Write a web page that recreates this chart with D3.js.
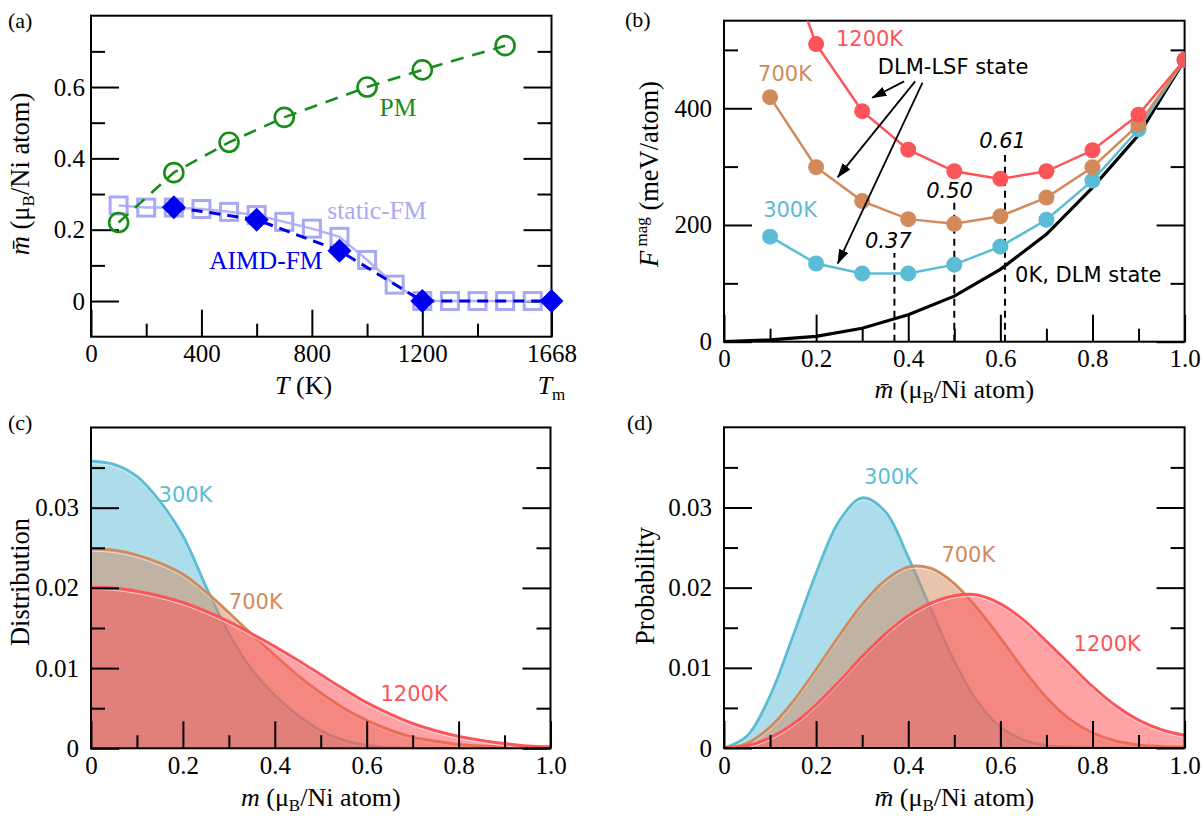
<!DOCTYPE html>
<html lang="en">
<head>
<meta charset="UTF-8">
<title>Ni moments</title>
<script src="https://cdn.jsdelivr.net/npm/d3@7"></script>
<style>
  body { margin: 0; background: #fff; }
  svg text { font-family: "Liberation Serif", "Times New Roman", serif; }
  svg text.sans { font-family: "DejaVu Sans", Verdana, sans-serif; }
</style>
</head>
<body>
<svg id="fig" width="1202" height="816"></svg>
<script>
// ---- (a) moment vs temperature
var tempPM = [100, 300, 500, 700, 1000, 1200, 1500];
var momentPM = [0.22, 0.36, 0.445, 0.515, 0.60, 0.648, 0.716];
var tempStatic = [100, 200, 300, 400, 500, 600, 700, 800, 900, 1000, 1100, 1200, 1300, 1400, 1500, 1600];
var momentStatic = [0.268, 0.262, 0.262, 0.258, 0.250, 0.241, 0.222, 0.203, 0.180, 0.115, 0.046, 0, 0, 0, 0, 0];
var tempAIMD = [300, 600, 900, 1200, 1668];
var momentAIMD = [0.263, 0.228, 0.141, 0, 0];

// ---- (b) magnetic free energy vs mean moment
var mBar = [0.1, 0.2, 0.3, 0.4, 0.5, 0.6, 0.7, 0.8, 0.9, 1.0];
var F300 = [180, 134, 117, 117, 132, 163, 209, 276, 364, 483];
var F700 = [419, 299, 241, 210, 202, 215, 247, 299, 372, 483];
var F1200 = [728, 510, 395, 329, 292, 279, 292, 328, 389, 483];
var mDLM = [0, 0.1, 0.2, 0.3, 0.4, 0.5, 0.6, 0.7, 0.8, 0.9, 1.0];
var FDLM = [0, 3, 9, 23, 46, 78, 124, 184, 264, 354, 483];
var minMoment = [0.37, 0.50, 0.61];
var minLineTop = [152, 238, 320];

// ---- (c) distribution of local moments, (d) probability of mean moment
var mGrid = [0, 0.05, 0.1, 0.15, 0.2, 0.25, 0.3, 0.35, 0.4, 0.45, 0.5,
             0.55, 0.6, 0.65, 0.7, 0.75, 0.8, 0.85, 0.9, 0.95, 1.0];
var dist300 = [0.0358, 0.0354, 0.0339, 0.0308, 0.0265, 0.0202, 0.0143, 0.0098, 0.0066, 0.0041, 0.0022,
               0.0010, 0.0004, 0.0001, 0, 0, 0, 0, 0, 0, 0];
var dist700 = [0.0249, 0.0247, 0.0241, 0.0231, 0.0217, 0.0195, 0.0169, 0.0142, 0.0116, 0.0091, 0.0069,
               0.0050, 0.0035, 0.0023, 0.0014, 0.0009, 0.0005, 0.0003, 0.0002, 0.0001, 0.0001];
var dist1200 = [0.0201, 0.0200, 0.0196, 0.0190, 0.0182, 0.0171, 0.0158, 0.0143, 0.0127, 0.0110, 0.0092,
                0.0074, 0.0057, 0.0043, 0.0031, 0.0022, 0.0015, 0.0010, 0.0006, 0.0003, 0.0002];
var prob300 = [0, 0.0015, 0.0065, 0.0140, 0.0218, 0.0283, 0.0312, 0.0295, 0.0238, 0.0172, 0.0108,
               0.0058, 0.0026, 0.0010, 0.0003, 0.0001, 0, 0, 0, 0, 0];
var prob700 = [0, 0.0006, 0.0026, 0.0058, 0.0098, 0.0140, 0.0179, 0.0209, 0.0226, 0.0224, 0.0205,
               0.0174, 0.0137, 0.0098, 0.0063, 0.0036, 0.0019, 0.0009, 0.0004, 0.0002, 0.0001];
var prob1200 = [0, 0.0003, 0.0013, 0.0030, 0.0054, 0.0083, 0.0114, 0.0142, 0.0165, 0.0181, 0.0190,
                0.0191, 0.0180, 0.0160, 0.0133, 0.0105, 0.0077, 0.0053, 0.0035, 0.0023, 0.0016];

var blue = '#5bbcd5', brown = '#d38a5b', red = '#fd5459';
var svg = d3.select('#fig');

var defs = svg.append('defs');
defs.append('marker').attr('id', 'arrow')
    .attr('markerUnits', 'userSpaceOnUse')
    .attr('markerWidth', 16).attr('markerHeight', 12)
    .attr('refX', 14).attr('refY', 5).attr('orient', 'auto')
    .append('path').attr('d', 'M0,0 L15,5 L0,10 Z').attr('fill', '#000');

var fmt1 = function (d) { return d === 0 ? '0' : d3.format('.1f')(d) };
var fmt2 = function (d) { return d === 0 ? '0' : d3.format('.2f')(d) };

// frame with inward ticks on bottom, left and right
function panel(o) {
    var x = d3.scaleLinear().domain(o.xd).range([o.l, o.r]);
    var y = d3.scaleLinear().domain(o.yd).range([o.b, o.t]);
    var g = svg.append('g');
    function style(sel) {
        sel.attr('font-size', 25).attr('font-family', '"Liberation Serif", serif');
        sel.select('.domain').remove();
        sel.selectAll('line').attr('stroke-width', 2);
    }
    g.append('g').attr('transform', 'translate(0,' + o.b + ')')
        .call(d3.axisBottom(x).tickValues(o.xMinor).tickSize(-13).tickFormat('')).call(style);
    g.append('g').attr('transform', 'translate(0,' + o.b + ')')
        .call(d3.axisBottom(x).tickValues(o.xMajor).tickSize(-27).tickPadding(8).tickFormat(o.xFmt)).call(style);
    g.append('g').attr('transform', 'translate(' + o.l + ',0)')
        .call(d3.axisLeft(y).tickValues(o.yMinor).tickSize(-14).tickFormat('')).call(style);
    g.append('g').attr('transform', 'translate(' + o.l + ',0)')
        .call(d3.axisLeft(y).tickValues(o.yMajor).tickSize(-28).tickPadding(o.yPad).tickFormat(o.yFmt)).call(style);
    g.append('g').attr('transform', 'translate(' + o.r + ',0)')
        .call(d3.axisRight(y).tickValues(o.yMinor).tickSize(-14).tickFormat('')).call(style);
    g.append('g').attr('transform', 'translate(' + o.r + ',0)')
        .call(d3.axisRight(y).tickValues(o.yMajor).tickSize(-28).tickFormat('')).call(style);
    g.append('rect').attr('x', o.l).attr('y', o.t).attr('width', o.r - o.l).attr('height', o.b - o.t)
        .attr('fill', 'none').attr('stroke', '#000').attr('stroke-width', 2);
    svg.append('text').attr('x', o.tagX).attr('y', o.tagY).attr('font-size', 22).text(o.tag);
    return {g: g, x: x, y: y};
}

function yTitle(cx, cy) {
    return svg.append('text').attr('transform', 'translate(' + cx + ',' + cy + ') rotate(-90)')
        .attr('text-anchor', 'middle').attr('font-size', 26.5);
}
function momentTitle(t, bar) {
    t.append('tspan').attr('font-style', 'italic').text(bar ? 'm\u0304' : 'm');
    t.append('tspan').text(' (\u03bc');
    t.append('tspan').attr('font-size', 17).attr('dy', 5).text('B');
    t.append('tspan').attr('dy', -5).text('/Ni atom)');
}
function xTitle(cx, y) {
    return svg.append('text').attr('x', cx).attr('y', y).attr('text-anchor', 'middle').attr('font-size', 26);
}

// ================= (a)
var A = panel({l: 91, r: 551.5, t: 15.7, b: 336.7, xd: [0, 1668], yd: [-0.1, 0.8],
    xMajor: [0, 400, 800, 1200, 1668], xMinor: [200, 600, 1000, 1400],
    yMajor: [0, 0.2, 0.4, 0.6], yMinor: [0.1, 0.3, 0.5, 0.7], yPad: 6,
    xFmt: function (d) { return d }, yFmt: fmt1, tag: '(a)', tagX: 8, tagY: 28});

var lineA = d3.line().x(function (d) { return A.x(d[0]) }).y(function (d) { return A.y(d[1]) });
var staticPts = d3.zip(tempStatic, momentStatic);
var pmPts = d3.zip(tempPM, momentPM);
var aimdPts = d3.zip(tempAIMD, momentAIMD);

A.g.append('path').datum(staticPts).attr('d', lineA).attr('fill', 'none')
    .attr('stroke', '#b5b5f5').attr('stroke-width', 2.5);
A.g.selectAll('.sq').data(staticPts).enter().append('rect')
    .attr('x', function (d) { return A.x(d[0]) - 8.5 }).attr('y', function (d) { return A.y(d[1]) - 8.5 })
    .attr('width', 17).attr('height', 17).attr('fill', 'none')
    .attr('stroke', '#a9a9f3').attr('stroke-width', 3);
A.g.append('path').datum(aimdPts).attr('d', lineA).attr('fill', 'none')
    .attr('stroke', '#0000e6').attr('stroke-width', 3).attr('stroke-dasharray', '11,7');
A.g.selectAll('.dm').data(aimdPts).enter().append('path')
    .attr('transform', function (d) { return 'translate(' + A.x(d[0]) + ',' + A.y(d[1]) + ')' })
    .attr('d', 'M0,-12 L12,0 L0,12 L-12,0 Z').attr('fill', '#0000f0');
A.g.append('path').datum(pmPts).attr('d', lineA).attr('fill', 'none')
    .attr('stroke', '#1a8c1a').attr('stroke-width', 2.6).attr('stroke-dasharray', '13,9');
A.g.selectAll('.ci').data(pmPts).enter().append('circle')
    .attr('cx', function (d) { return A.x(d[0]) }).attr('cy', function (d) { return A.y(d[1]) })
    .attr('r', 9.5).attr('fill', 'none').attr('stroke', '#1a8c1a').attr('stroke-width', 2.6);

A.g.append('text').attr('x', A.x(1045)).attr('y', A.y(0.545)).attr('dy', '0.35em')
    .attr('font-size', 25.5).attr('fill', '#1a8c1a').text('PM');
A.g.append('text').attr('x', A.x(856)).attr('y', A.y(0.254)).attr('dy', '0.35em')
    .attr('font-size', 25.5).attr('fill', '#a9a9f3').text('static-FM');
A.g.append('text').attr('x', A.x(428)).attr('y', A.y(0.115)).attr('dy', '0.35em')
    .attr('font-size', 25.5).attr('fill', '#0000f0').text('AIMD-FM');

var tx = xTitle(A.x(770), 394);
tx.append('tspan').attr('font-style', 'italic').text('T');
tx.append('tspan').text(' (K)');
var tm = xTitle(A.x(1668), 394);
tm.append('tspan').attr('font-style', 'italic').text('T');
tm.append('tspan').attr('font-size', 17).attr('dy', 6).text('m');
momentTitle(yTitle(29, 174), true);

// ================= (b)
var B = panel({l: 724, r: 1184.6, t: 20.7, b: 341.7, xd: [0, 1], yd: [0, 550],
    xMajor: [0, 0.2, 0.4, 0.6, 0.8, 1.0], xMinor: [0.1, 0.3, 0.5, 0.7, 0.9],
    yMajor: [0, 200, 400], yMinor: [100, 300, 500], yPad: 12,
    xFmt: fmt1, yFmt: function (d) { return d }, tag: '(b)', tagX: 625, tagY: 27});

defs.append('clipPath').attr('id', 'clipB').append('rect')
    .attr('x', 724).attr('y', 20.7).attr('width', 460.6).attr('height', 321);
var plotB = B.g.append('g').attr('clip-path', 'url(#clipB)');

var lineB = d3.line().x(function (d) { return B.x(d[0]) }).y(function (d) { return B.y(d[1]) });
minMoment.forEach(function (m, i) {
    plotB.append('line').attr('x1', B.x(m)).attr('x2', B.x(m))
        .attr('y1', B.y(0)).attr('y2', B.y(minLineTop[i]))
        .attr('stroke', '#000').attr('stroke-width', 2).attr('stroke-dasharray', '7,5');
});
plotB.append('path').datum(d3.zip(mDLM, FDLM)).attr('d', lineB).attr('fill', 'none')
    .attr('stroke', '#000').attr('stroke-width', 3.2);
[[F300, blue], [F700, brown], [F1200, red]].forEach(function (s) {
    var pts = d3.zip(mBar, s[0]);
    plotB.append('path').datum(pts).attr('d', lineB).attr('fill', 'none')
        .attr('stroke', s[1]).attr('stroke-width', 2.5);
    plotB.selectAll(null).data(pts).enter().append('circle')
        .attr('cx', function (d) { return B.x(d[0]) }).attr('cy', function (d) { return B.y(d[1]) })
        .attr('r', 8).attr('fill', s[1]);
});

function sansLabel(P, x, y, txt, col, italic) {
    return P.g.append('text').attr('class', 'sans').attr('x', P.x(x)).attr('y', P.y(y))
        .attr('dy', '0.36em').attr('font-size', 21).attr('fill', col)
        .attr('font-style', italic ? 'italic' : null).text(txt);
}
sansLabel(B, 0.243, 520, '1200K', red);
sansLabel(B, 0.074, 459, '700K', brown);
sansLabel(B, 0.085, 227, '300K', blue);
sansLabel(B, 0.334, 471, 'DLM-LSF state', '#000');
sansLabel(B, 0.632, 116, '0K, DLM state', '#000');
minMoment.forEach(function (m, i) {
    sansLabel(B, [0.306, 0.439, 0.554][i], [173, 260, 344.5][i], d3.format('.2f')(m), '#000', true);
});

// arrows from the DLM-LSF label
[[0.391, 446, 0.322, 418], [0.415, 446, 0.247, 282], [0.431, 444, 0.247, 134]].forEach(function (a) {
    B.g.append('line').attr('x1', B.x(a[0])).attr('y1', B.y(a[1]))
        .attr('x2', B.x(a[2])).attr('y2', B.y(a[3]))
        .attr('stroke', '#000').attr('stroke-width', 1.8).attr('marker-end', 'url(#arrow)');
});

momentTitle(xTitle(B.x(0.5), 398), true);
var by = yTitle(658, 174);
by.append('tspan').attr('font-style', 'italic').text('F');
by.append('tspan').attr('font-size', 17).attr('dy', -11).text(' mag');
by.append('tspan').attr('dy', 11).text(' (meV/atom)');

// ================= (c) and (d)
function densityPanel(P, series, clipId) {
    defs.append('clipPath').attr('id', clipId).append('rect')
        .attr('x', P.x(0)).attr('y', P.y(0.04)).attr('width', P.x(1) - P.x(0)).attr('height', P.y(0) - P.y(0.04));
    var plot = P.g.insert('g', ':first-child').attr('clip-path', 'url(#' + clipId + ')');
    var curve = d3.curveCatmullRom.alpha(0.5);
    var area = d3.area().curve(curve)
        .x(function (d) { return P.x(d[0]) }).y0(P.y(0)).y1(function (d) { return P.y(d[1]) });
    var line = d3.line().curve(curve)
        .x(function (d) { return P.x(d[0]) }).y(function (d) { return P.y(d[1]) });
    series.forEach(function (s) {
        var pts = d3.zip(mGrid, s.v);
        plot.append('path').datum(pts).attr('d', area).attr('fill', s.c).attr('fill-opacity', s.o);
        // thin light edge just inside the fill
        plot.append('path').datum(pts).attr('d', line).attr('fill', 'none')
            .attr('transform', 'translate(0,2.4)').attr('stroke', '#fff')
            .attr('stroke-opacity', 0.6).attr('stroke-width', 1);
        plot.append('path').datum(pts).attr('d', line).attr('fill', 'none')
            .attr('stroke', s.c).attr('stroke-width', 2.8);
    });
}

var C = panel({l: 91, r: 550.5, t: 427.5, b: 748.3, xd: [0, 1], yd: [0, 0.04],
    xMajor: [0, 0.2, 0.4, 0.6, 0.8, 1.0], xMinor: [0.1, 0.3, 0.5, 0.7, 0.9],
    yMajor: [0, 0.01, 0.02, 0.03], yMinor: [0.005, 0.015, 0.025, 0.035], yPad: 12,
    xFmt: fmt1, yFmt: fmt2, tag: '(c)', tagX: 8, tagY: 430});
densityPanel(C, [{v: dist300, c: blue, o: 0.5}, {v: dist700, c: brown, o: 0.5}, {v: dist1200, c: red, o: 0.54}], 'clipC');
sansLabel(C, 0.147, 0.0316, '300K', blue);
sansLabel(C, 0.30, 0.0183, '700K', brown);
sansLabel(C, 0.63, 0.0069, '1200K', red);
momentTitle(xTitle(C.x(0.5), 806), false);
yTitle(29, 582).text('Distribution');

var D = panel({l: 724, r: 1184.6, t: 427.3, b: 748, xd: [0, 1], yd: [0, 0.04],
    xMajor: [0, 0.2, 0.4, 0.6, 0.8, 1.0], xMinor: [0.1, 0.3, 0.5, 0.7, 0.9],
    yMajor: [0, 0.01, 0.02, 0.03], yMinor: [0.005, 0.015, 0.025, 0.035], yPad: 12,
    xFmt: fmt1, yFmt: fmt2, tag: '(d)', tagX: 627, tagY: 430});
densityPanel(D, [{v: prob300, c: blue, o: 0.5}, {v: prob700, c: brown, o: 0.5}, {v: prob1200, c: red, o: 0.54}], 'clipD');
sansLabel(D, 0.304, 0.0339, '300K', blue);
sansLabel(D, 0.472, 0.0241, '700K', brown);
sansLabel(D, 0.759, 0.0130, '1200K', red);
momentTitle(xTitle(D.x(0.5), 806), true);
yTitle(654, 586).text('Probability');
</script>
</body>
</html>
